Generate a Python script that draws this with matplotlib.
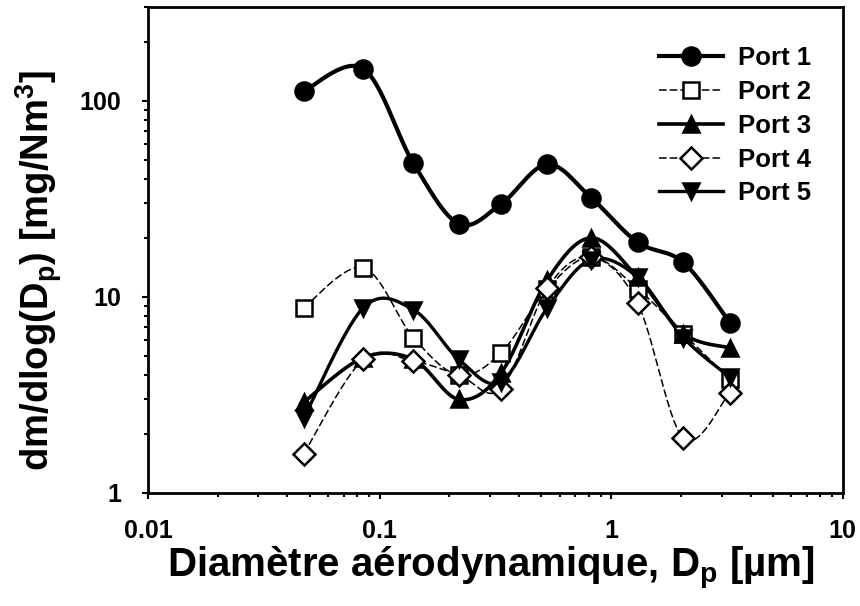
import numpy as np
import matplotlib
matplotlib.use("Agg")
import matplotlib.pyplot as plt
from matplotlib.lines import Line2D

plt.rcParams['font.family'] = ['Liberation Sans', 'DejaVu Sans']
plt.rcParams['font.weight'] = 'bold'
plt.rcParams['axes.labelweight'] = 'bold'
plt.rcParams['mathtext.fontset'] = 'custom'
plt.rcParams['mathtext.rm'] = 'Liberation Sans:bold'
plt.rcParams['mathtext.it'] = 'Liberation Sans:bold'
plt.rcParams['mathtext.bf'] = 'Liberation Sans:bold'
plt.rcParams['mathtext.default'] = 'rm'

# diametre moyen de chaque etage (um)
dp = [0.047, 0.085, 0.14, 0.22, 0.335, 0.53, 0.82, 1.3, 2.05, 3.25]

port1 = [112, 146, 48, 23.6, 29.8, 47.5, 32, 19, 15, 7.4]
port2 = [8.8, 14.1, 6.2, 4.0, 5.2, 11.0, 16.0, 11.0, 6.5, 3.8]
port3 = [2.9, 4.9, 4.8, 3.0, 4.1, 12.2, 20.0, 12.6, 6.5, 5.5]
port4 = [1.58, 4.8, 4.7, 4.0, 3.4, 11.1, 16.0, 9.3, 1.9, 3.25]
port5 = [2.4, 8.8, 8.6, 4.8, 3.7, 8.8, 15.5, 12.6, 6.2, 3.9]

labels = ['Port 1', 'Port 2', 'Port 3', 'Port 4', 'Port 5']


def lisse(x, y, n=30):
    # spline de Catmull-Rom dans l'espace log-log (courbe lissee type Excel)
    lx = np.log10(x)
    ly = np.log10(y)
    px = np.concatenate([[lx[0]], lx, [lx[-1]]])
    py = np.concatenate([[ly[0]], ly, [ly[-1]]])
    xs, ys = [], []
    t = np.linspace(0, 1, n)
    for i in range(1, len(px) - 2):
        for p, out in ((px, xs), (py, ys)):
            p0, p1, p2, p3 = p[i - 1], p[i], p[i + 1], p[i + 2]
            c = 0.5 * (2 * p1 + (-p0 + p2) * t
                       + (2 * p0 - 5 * p1 + 4 * p2 - p3) * t ** 2
                       + (-p0 + 3 * p1 - 3 * p2 + p3) * t ** 3)
            out.extend(c)
    return 10 ** np.array(xs), 10 ** np.array(ys)


styles = [
    dict(ls='-', lw=3.0, marker='o', ms=13, mfc='black'),
    dict(ls=(0, (5, 2)), lw=1.1, marker='s', ms=11.5, mfc='white'),
    dict(ls='-', lw=2.6, marker='^', ms=12, mfc='black'),
    dict(ls=(0, (5, 2)), lw=1.1, marker='D', ms=11, mfc='white'),
    dict(ls='-', lw=2.4, marker='v', ms=12, mfc='black'),
]

fig = plt.figure(figsize=(8.6, 6.06), dpi=100)
ax = fig.add_axes([0.172, 0.1865, 0.808, 0.8015])

handles = []
for serie, st, lab in zip([port1, port2, port3, port4, port5], styles, labels):
    sx, sy = lisse(dp, serie)
    ax.plot(sx, sy, color='black', ls=st['ls'], lw=st['lw'], zorder=2)
    ax.plot(dp, serie, ls='none', marker=st['marker'], ms=st['ms'],
            mfc=st['mfc'], mec='black', mew=1.8, zorder=3)
    handles.append(Line2D([], [], color='black', ls=st['ls'], lw=st['lw'],
                          marker=st['marker'], ms=st['ms'], mfc=st['mfc'],
                          mec='black', mew=1.8))

ax.set_xscale('log')
ax.set_yscale('log')
ax.set_xlim(0.01, 10)
ax.set_ylim(1, 300)
ax.set_xticks([0.01, 0.1, 1, 10])
ax.set_xticklabels(['0.01', '0.1', '1', '10'])
ax.set_yticks([1, 10, 100])
ax.set_yticklabels(['1', '10', '100'])

for s in ax.spines.values():
    s.set_linewidth(2)
ax.tick_params(which='both', direction='out', width=1.5, labelsize=18)
ax.tick_params(axis='x', pad=15)
ax.tick_params(axis='y', pad=15)
ax.tick_params(which='major', length=4)
ax.tick_params(which='minor', length=3)

ax.set_xlabel('Diamètre aérodynamique, D$_p$ [µm]', fontsize=29)
ax.set_ylabel('dm/dlog(D$_p$) [mg/Nm$^3$]', fontsize=27.5)
ax.xaxis.set_label_coords(0.494, -0.107)
ax.yaxis.set_label_coords(-0.121, 0.459)

ax.legend(handles=handles, labels=labels, loc='upper right', frameon=False,
          fontsize=18.5, handlelength=2.5, labelspacing=0.38,
          handletextpad=0.58, bbox_to_anchor=(0.988, 0.967))

fig.savefig('out.png', dpi=100)
